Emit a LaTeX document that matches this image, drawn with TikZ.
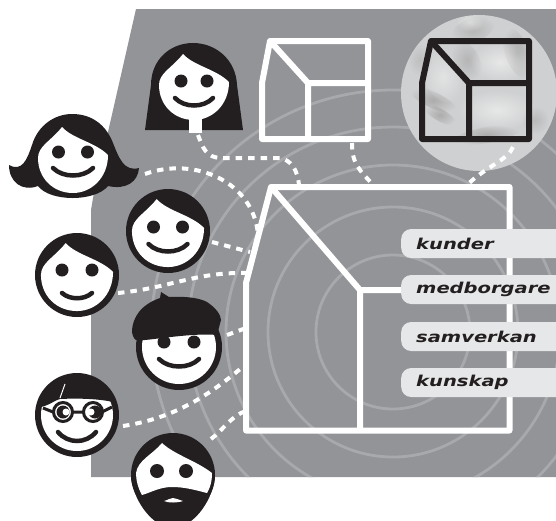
\documentclass[tikz,border=0pt]{standalone}
\usepackage{fontspec}
\usepackage{tikz}
\usetikzlibrary{positioning, calc, fadings}
\newfontfamily\pillfont[FakeStretch=1.3]{DejaVu Sans}
\definecolor{bg-gray}{HTML}{929497}
\definecolor{ring-gray}{HTML}{A7A9AC}
\definecolor{photo-gray}{HTML}{CFD0D1}
\definecolor{pill-light}{HTML}{E6E7E8}
\definecolor{ink}{HTML}{231F20}
\tikzfading[name=softblob, inner color=transparent!0, outer color=transparent!100]
% Ansikte med bena i håret
\tikzset{
    partface/.pic={
        \fill[white] (-11,-31) .. controls (0,-19) and (22,-16) .. (35,-3)
            .. controls (35,20) and (18,35) .. (0,35)
            .. controls (-20,35) and (-35,20) .. (-35,0)
            .. controls (-35,-12) and (-22,-17) .. cycle;
    }
}
% eyes and smile: x, y, eye dx, eye dy, smile dx, smile dy
\newcommand{\smileface}[6]{
    \fill[ink] (#1-#3,#2+#4) circle (6.5pt) (#1+#3,#2+#4) circle (6.5pt);
    \draw[smileline] (#1-#5,#2+#6) .. controls (#1-#5/2,#2+#6+10) and (#1+#5/2,#2+#6+10) .. (#1+#5,#2+#6);
}
\begin{document}
\begin{tikzpicture}[
    x=1pt, y=-1pt,
    ring/.style={draw=ring-gray, line width=2.8pt},
    whitehouse/.style={draw=white, line width=6pt, line join=round},
    darkhouse/.style={draw=ink, line width=6pt, line join=round},
    dotline/.style={draw=white, line width=4pt, dash pattern=on 6.5pt off 6pt},
    pill/.style={rectangle, fill=pill-light, rounded corners=10pt, minimum width=170pt, minimum height=29pt, text width=140pt, align=left, anchor=west, inner sep=0pt, font=\pillfont\fontsize{15}{15}\selectfont\bfseries\itshape, text=ink},
    head/.style={circle, fill=ink, inner sep=0pt, minimum size=84pt},
    smileline/.style={draw=ink, line width=4.5pt, line cap=round}
]
    \useasboundingbox (0,0) rectangle (556,520);
    \clip (0,0) rectangle (556,520);

    % Bakgrund
    \fill[bg-gray] (136,9) -- (556,9) -- (556,477) -- (91,477) -- (91,210) -- (93,198) -- cycle;
    \begin{scope}
        \clip (136,9) -- (556,9) -- (556,477) -- (91,477) -- (91,210) -- (93,198) -- cycle;
        \foreach \r in {77,125,167,205,242} {
            \draw[ring] (393,332) circle (\r pt);
        }
    \end{scope}

    % Foto
    \fill[photo-gray] (479,93) circle (78pt);
    \begin{scope}
        \clip (479,93) circle (78pt);
        \foreach \x/\y/\a/\b/\r/\c/\o in {
            433/100/26/8/-25/ink/.2, 440/115/18/6/-30/ink/.2, 473/30/22/12/20/ink/.15, 517/53/12/26/20/ink/.2,
            467/60/12/22/30/ink/.15, 487/135/34/8/10/ink/.2, 420/60/12/16/0/ink/.1, 535/120/14/14/0/ink/.12,
            500/62/30/20/0/white/.5, 497/110/40/20/0/white/.5, 443/77/18/26/20/white/.4, 470/22/14/10/0/white/.4} {
            \fill[\c, opacity=\o, path fading=softblob, rotate around={\r:(\x,\y)}] (\x,\y) ellipse (\a pt and \b pt);
        }
    \end{scope}

    % Punkter
    \coordinate (neck) at (198,135);
    \coordinate (wavyhair) at (145,174);
    \coordinate (smallout) at (352,143);
    \coordinate (photoout) at (513,147);
    \coordinate (roof1) at (299,186);
    \coordinate (roof2) at (374,186);
    \coordinate (roof3) at (466,186);
    \coordinate (wall1) at (258,235);
    \coordinate (wall2) at (250,252);
    \coordinate (wall3) at (246,273);
    \coordinate (wall4) at (246,328);
    \coordinate (wall5) at (246,364);
    \coordinate (wall6) at (246,411);

    % Prickade linjer
    \draw[dotline] (neck) .. controls (203,148) and (206,157) .. (220,158) -- (280,158) .. controls (291,160) and (298,170) .. (roof1);
    \draw[dotline] (smallout) .. controls (352,165) and (360,170) .. (roof2);
    \draw[dotline] (photoout) .. controls (508,160) and (485,167) .. (roof3);
    \draw[dotline] (wavyhair) .. controls (195,156) and (254,182) .. (wall1);
    \draw[dotline] (212,242) -- (wall2);
    \draw[dotline] (118,293) .. controls (170,288) and (195,272) .. (wall3);
    \draw[dotline] (227,335) -- (wall4);
    \draw[dotline] (123,426) .. controls (175,418) and (210,395) .. (wall5);
    \draw[dotline] (211,439) .. controls (222,431) and (232,415) .. (wall6);

    % Hus
    \draw[whitehouse] (270,41) -- (368,41) -- (368,139) -- (262,139) -- (262,83) -- cycle;
    \draw[whitehouse] (270,41) -- (308,83) -- (308,139) (308,83) -- (368,83);
    \draw[darkhouse] (431,41) -- (529,41) -- (529,139) -- (422,139) -- (422,83) -- cycle;
    \draw[darkhouse] (431,41) -- (469,83) -- (469,139) (469,83) -- (529,83);
    \draw[whitehouse] (271,187) -- (509.5,187) -- (509.5,430.5) -- (246,430.5) -- (246,283) -- cycle;
    \draw[whitehouse] (271,187) -- (360,290) -- (360,430.5) (360,290) -- (509.5,290);

    % Etiketter
    \node[pill] (kunder) at (401,243.5) {kunder};
    \node[pill] (medborgare) at (401,289.5) {medborgare};
    \node[pill] (samverkan) at (401,336.5) {samverkan};
    \node[pill] (kunskap) at (401,382.5) {kunskap};

    % Långt hår
    \fill[ink] (145,130) -- (151,85) .. controls (151,60) and (170,43) .. (193,43)
        .. controls (216,43) and (236,60) .. (237,85) -- (243,130) -- cycle;
    \node[minimum size=0pt, inner sep=0pt] (longhair) at (194,85) {};
    \pic at (longhair) {partface};
    \fill[white] (189,115) rectangle (202,133);
    \smileface{194}{85}{13}{-4}{19}{13}

    % Vågigt hår
    \fill[ink] (72,114) .. controls (92,114) and (106,125) .. (113,143)
        .. controls (119,158) and (124,172) .. (139,168)
        .. controls (138,182) and (126,190) .. (108,186)
        .. controls (95,202) and (50,202) .. (38,186)
        .. controls (22,192) and (9,182) .. (9,165)
        .. controls (22,172) and (27,160) .. (32,145)
        .. controls (38,125) and (55,114) .. cycle;
    \node[minimum size=0pt, inner sep=0pt] (wavyface) at (73,158) {};
    \pic at (wavyface) {partface};
    \smileface{73}{158}{14.5}{-6}{20}{10}

    % Mitten
    \node[head] (middlehead) at (168,231) {};
    \pic[scale=1.03] at (middlehead) {partface};
    \smileface{168}{231}{14.5}{-4}{19.5}{13}

    % Vänster
    \node[head] (lefthead) at (77,275) {};
    \pic[scale=1.03] at (lefthead) {partface};
    \fill[ink] (62,270) circle (6.5pt) (92,270) circle (6.5pt);
    \draw[smileline] (62,293) .. controls (70,300) and (84,300) .. (92,293);

    % Basker
    \node[head, minimum size=86pt] (berethead) at (179,347) {};
    \fill[white] (179,347) circle (37pt);
    \fill[ink] (132,330) .. controls (133,318) and (140,305) .. (160,298)
        -- (161,292) -- (169,297) .. controls (185,296) and (200,298) .. (207,302)
        .. controls (216,308) and (221,315) .. (221,320) -- (217,335)
        .. controls (195,333) and (165,338) .. (145,340) -- (136,340) .. controls (133,338) and (132,334) .. cycle;
    \smileface{179}{347}{15}{-5}{20}{12}

    % Glasögon
    \node[head] (glasshead) at (77,415) {};
    \fill[white] (77,415) circle (36pt);
    \fill[ink] (41,407) .. controls (50,405) and (55,400) .. (60,399)
        .. controls (80,398) and (100,399) .. (113,402) .. controls (108,380) and (90,376) .. (77,376)
        .. controls (55,376) and (42,390) .. cycle;
    \draw[white, line width=1pt] (65,384) -- (60,398);
    \draw[ink, line width=3pt] (43,408) -- (53,412) (72,412) -- (83,412) (102,412) -- (112,407);
    \foreach \gx in {63,93} {
        \draw[ink, line width=3pt, fill=white] (\gx,412) circle (9.5pt);
    }
    \fill[ink] (63,412) circle (6.5pt) (95,412) circle (6.5pt);
    \fill[white] (66,412) circle (3.5pt) (91,412) circle (3.5pt);
    \draw[smileline] (58,432) .. controls (68,444) and (86,444) .. (96,432);

    % Skägg
    \node[head] (beardhead) at (173,475) {};
    \fill[ink] (131,478) .. controls (135,505) and (155,528) .. (173,528) .. controls (191,528) and (211,505) .. (215,478) -- cycle;
    \fill[white] (162,443) .. controls (175,455) and (195,460) .. (212,473)
        .. controls (212,482) and (210,488) .. (207,493)
        .. controls (195,490) and (185,487) .. (172,487)
        .. controls (160,487) and (152,492) .. (142,495)
        .. controls (138,488) and (136,480) .. (136,473)
        .. controls (138,460) and (152,455) .. cycle;
    \fill[ink] (157,471) circle (7pt) (186,471) circle (7pt);
    \fill[white] (164,501) .. controls (168,500) and (170,498) .. (173,498)
        .. controls (176,498) and (179,500) .. (183,501)
        .. controls (178,503) and (168,503) .. cycle;
\end{tikzpicture}
\end{document}
